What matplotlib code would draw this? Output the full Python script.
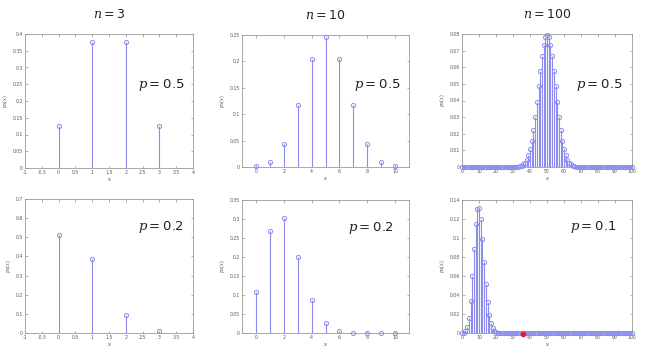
import matplotlib
matplotlib.use("Agg")
import matplotlib.pyplot as plt
import numpy as np

plt.rcParams['mathtext.fontset'] = 'custom'
plt.rcParams['mathtext.it'] = 'DejaVu Serif:italic'
plt.rcParams['mathtext.rm'] = 'DejaVu Sans'

# values
k3 = [0, 1, 2, 3]
pmf3_half = [0.125, 0.375, 0.375, 0.125]
pmf3_02 = [0.512, 0.384, 0.096, 0.008]

k10 = [0, 1, 2, 3, 4, 5, 6, 7, 8, 9, 10]
pmf10_half = [0.001, 0.0098, 0.0439, 0.1172, 0.2051, 0.2461, 0.2051, 0.1172, 0.0439, 0.0098, 0.001]
pmf10_02 = [0.1074, 0.2684, 0.302, 0.2013, 0.0881, 0.0264, 0.0055, 0.0008, 0.0001, 0.0, 0.0]

k100 = list(range(101))
pmf100_half = [
    0, 0, 0, 0, 0, 0, 0, 0, 0, 0,
    0, 0, 0, 0, 0, 0, 0, 0, 0, 0,
    0, 0, 0, 0, 0, 0, 0, 0, 0, 0.0001,
    0.0001, 0.0001, 0.0002, 0.0003, 0.0005, 0.0009, 0.0016, 0.0027, 0.0045, 0.0071,
    0.0108, 0.0159, 0.0223, 0.0301, 0.039, 0.0485, 0.058, 0.0666, 0.0735, 0.078,
    0.0796,
    0.078, 0.0735, 0.0666, 0.058, 0.0485, 0.039, 0.0301, 0.0223, 0.0159, 0.0108,
    0.0071, 0.0045, 0.0027, 0.0016, 0.0009, 0.0005, 0.0003, 0.0002, 0.0001, 0.0001,
    0.0001, 0, 0, 0, 0, 0, 0, 0, 0, 0,
    0, 0, 0, 0, 0, 0, 0, 0, 0, 0,
    0, 0, 0, 0, 0, 0, 0, 0, 0, 0,
]
pmf100_01 = [
    0.0, 0.0003, 0.0016, 0.0059, 0.0159, 0.0339, 0.0596, 0.0889, 0.1148, 0.1304,
    0.1319, 0.1199, 0.0988, 0.0743, 0.0513, 0.0327, 0.0193, 0.0106, 0.0054, 0.0026,
    0.0012, 0.0005, 0.0002, 0.0001, 0, 0, 0, 0, 0, 0,
    0, 0, 0, 0, 0, 0, 0, 0, 0, 0,
    0, 0, 0, 0, 0, 0, 0, 0, 0, 0,
    0, 0, 0, 0, 0, 0, 0, 0, 0, 0,
    0, 0, 0, 0, 0, 0, 0, 0, 0, 0,
    0, 0, 0, 0, 0, 0, 0, 0, 0, 0,
    0, 0, 0, 0, 0, 0, 0, 0, 0, 0,
    0, 0, 0, 0, 0, 0, 0, 0, 0, 0,
    0,
]
red_x = [36]
red_y = [-0.0015]

titles = ['$n = 3$', '$n = 10$', '$n = 100$']
p_labels = ['$p = 0.5$', '$p = 0.5$', '$p = 0.5$', '$p = 0.2$', '$p = 0.2$', '$p = 0.1$']

blue = '#8c8cf0'

fig = plt.figure(figsize=(6.5, 3.6), dpi=100)
W, H = 650.0, 360.0

def make_ax(left, right, top, bottom):
    return fig.add_axes([left / W, 1 - bottom / H, (right - left) / W, (bottom - top) / H])

def stem(ax, x, y, ms):
    ax.vlines(x, 0, y, color=blue, lw=0.8)
    ax.plot(x, y, 'o', mfc='none', mec=blue, ms=ms, mew=0.7, clip_on=False)

def style(ax, xlim, xticks, ylim, yticks, xfmt):
    ax.set_xlim(xlim)
    ax.set_ylim(ylim)
    ax.set_xticks(xticks)
    ax.set_yticks(yticks)
    ax.set_xticklabels([xfmt(v) for v in xticks])
    ax.set_yticklabels(['%g' % round(v, 3) for v in yticks])
    ax.tick_params(direction='in', length=1.8, width=0.4, labelsize=3.3, pad=1.5,
                   top=True, right=True, colors='#777777', labelcolor='#555555')
    for s in ax.spines.values():
        s.set_color('#999999')
        s.set_linewidth(0.6)
    ax.set_ylabel('$p_X(x)$', fontsize=3.5, labelpad=2, color='#555555')
    ax.set_xlabel('x', fontsize=3.5, labelpad=1.5, color='#555555')

fmt = lambda v: '%g' % v

ax1 = make_ax(25, 193, 34, 168)
stem(ax1, k3, pmf3_half, 3)
style(ax1, (-1, 4), np.arange(-1, 4.01, 0.5), (0, 0.4), np.arange(0, 0.401, 0.05), fmt)

ax2 = make_ax(242, 409, 35, 167)
stem(ax2, k10, pmf10_half, 3)
style(ax2, (-1, 11), np.arange(0, 11, 2), (0, 0.25), np.arange(0, 0.251, 0.05), fmt)

ax3 = make_ax(462, 632, 34, 167)
stem(ax3, k100, pmf100_half, 3)
style(ax3, (0, 100), np.arange(0, 101, 10), (0, 0.08), np.arange(0, 0.0801, 0.01), fmt)

ax4 = make_ax(25, 193, 199, 333)
stem(ax4, k3, pmf3_02, 3)
style(ax4, (-1, 4), np.arange(-1, 4.01, 0.5), (0, 0.7), np.arange(0, 0.701, 0.1), fmt)

ax5 = make_ax(242, 409, 200, 333)
stem(ax5, k10, pmf10_02, 3)
style(ax5, (-1, 11), np.arange(0, 11, 2), (0, 0.35), np.arange(0, 0.351, 0.05), fmt)

ax6 = make_ax(462, 632, 200, 333)
stem(ax6, k100, pmf100_01, 3)
ax6.plot(red_x, red_y, 'o', color='#e02020', ms=3, clip_on=False, zorder=5)
style(ax6, (0, 100), np.arange(0, 101, 10), (0, 0.14), np.arange(0, 0.141, 0.02), fmt)

axes = [ax1, ax2, ax3, ax4, ax5, ax6]
label_pos = [(0.81, 0.62), (0.81, 0.62), (0.806, 0.62), (0.81, 0.79), (0.77, 0.79), (0.77, 0.80)]
for ax, lab, (px, py) in zip(axes, p_labels, label_pos):
    ax.text(px, py, lab, transform=ax.transAxes, ha='center', va='center', fontsize=9.5, color='#222222')

for ax, t in zip(axes[:3], titles):
    ax.text(0.5, 1 + 20 / 134, t, transform=ax.transAxes, ha='center', va='center', fontsize=9, color='#222222')

fig.savefig('out.png', dpi=100)
